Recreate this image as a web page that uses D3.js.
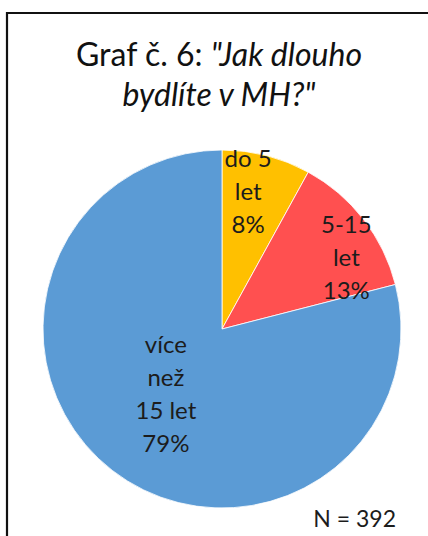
<!DOCTYPE html>
<html><head><meta charset="utf-8">
<script src="https://cdn.jsdelivr.net/npm/d3@7"></script>
<style>
html,body{margin:0;padding:0;background:#fff;}
svg{display:block;}
text{font-family:Lato,"Open Sans",sans-serif;}
</style></head>
<body>
<script>
const categories = ["do 5 let", "5-15 let", "více než 15 let"];
const values = [8, 13, 79];
const labelLines = [["do 5", "let", "8%"], ["5-15", "let", "13%"], ["více", "než", "15 let", "79%"]];
const colors = ["#FFC000", "#FF5050", "#5B9BD5"];
const titleLine1 = [{t: "Graf č. 6: ", italic: false}, {t: "\"Jak dlouho", italic: true}];
const titleLine2 = [{t: "bydlíte v MH?\"", italic: true}];
const noteText = "N = 392";

const W = 428, H = 536;
const svg = d3.select("body").append("svg").attr("width", W).attr("height", H);
svg.append("rect").attr("width", W).attr("height", H).attr("fill", "#fff");

// frame
svg.append("path").attr("d", `M7,${H+5} V13 H${W+5}`).attr("fill", "none")
  .attr("stroke", "#111").attr("stroke-width", 2.2);

// title
function titleLine(parts, y) {
  const t = svg.append("text").attr("x", 219).attr("y", y).attr("text-anchor", "middle")
    .attr("font-size", 32).attr("fill", "#111");
  parts.forEach(p => t.append("tspan").text(p.t).attr("font-style", p.italic ? "italic" : "normal"));
}
titleLine(titleLine1, 66);
titleLine(titleLine2, 106);

// pie
const cx = 222, cy = 329, R = 179;
const pie = d3.pie().sort(null).value(d => d)(values);
const arc = d3.arc().innerRadius(0).outerRadius(R);
const g = svg.append("g").attr("transform", `translate(${cx},${cy})`);
g.selectAll("path.slice").data(pie).join("path").attr("class", "slice")
  .attr("d", arc).attr("fill", (d, i) => colors[i])
  .attr("stroke", "#fff").attr("stroke-width", 0.8);

// labels
const labelAdj = [{k: 0.79, dx: -9, dy: 0}, {k: 0.78, dx: 14, dy: 15}, {k: 0.475, dx: -4, dy: -2}];
const lineH = 33;
pie.forEach((d, i) => {
  const a = (d.startAngle + d.endAngle) / 2;
  const r = R * labelAdj[i].k;
  const x = Math.sin(a) * r + labelAdj[i].dx;
  const y = -Math.cos(a) * r + labelAdj[i].dy;
  const lines = labelLines[i];
  const t = g.append("text").attr("text-anchor", "middle").attr("font-size", 24).attr("fill", "#1c1c1c");
  lines.forEach((l, j) => {
    t.append("tspan").attr("x", x).attr("y", y + (j - (lines.length - 1) / 2) * lineH + 8).text(l);
  });
});

svg.append("text").attr("x", 396).attr("y", 527).attr("text-anchor", "end")
  .attr("font-size", 23).attr("fill", "#1c1c1c").text(noteText);
</script>
</body></html>
